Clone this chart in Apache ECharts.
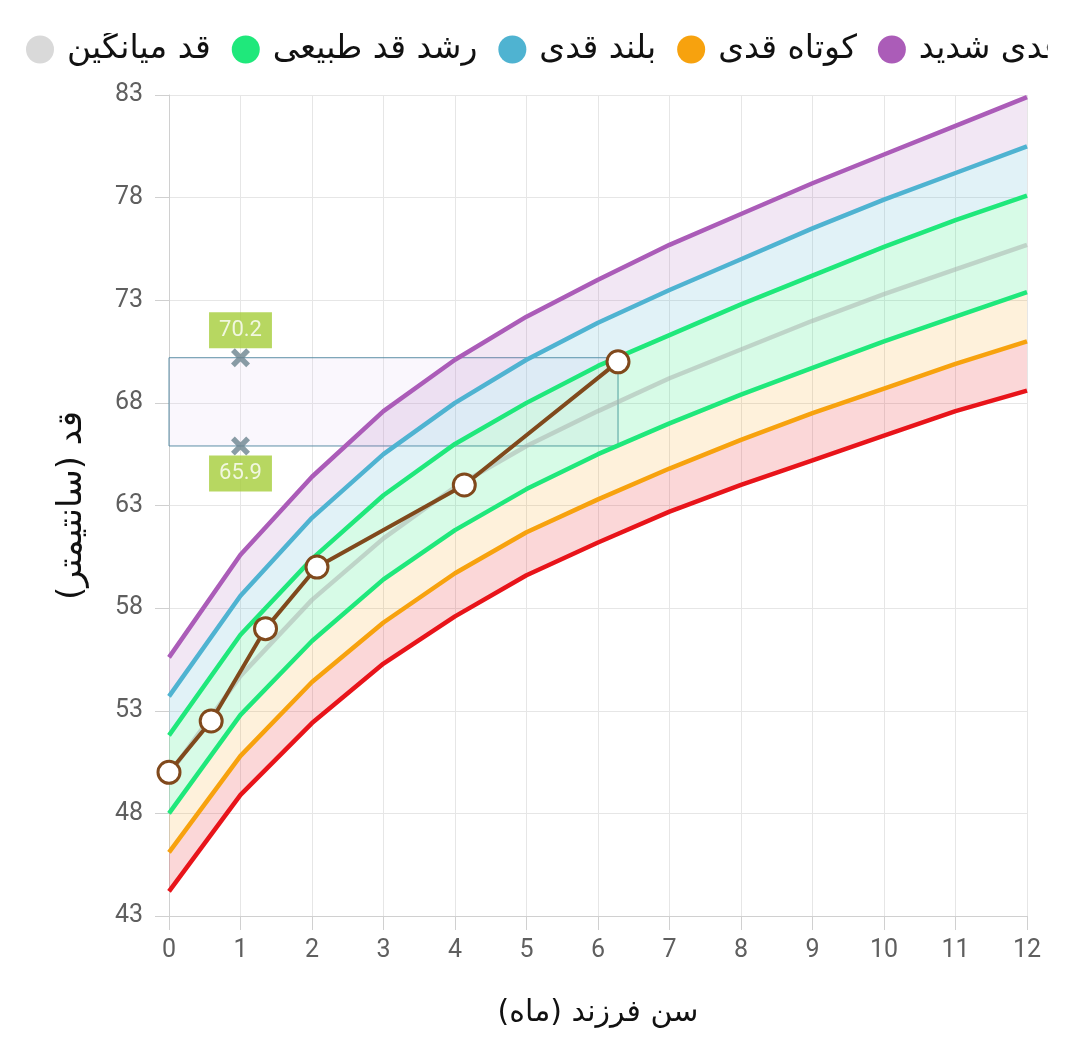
<!DOCTYPE html>
<html><head><meta charset="utf-8">
<script src="https://cdn.jsdelivr.net/npm/echarts@6/dist/echarts.min.js"></script>
<style>html,body{margin:0;padding:0;background:#fff}#c{width:1080px;height:1062px}</style>
</head><body><div id="c"></div>
<script>
// Ages in months (x axis)
const months = [0,1,2,3,4,5,6,7,8,9,10,11,12];
// Reference curves (cm)
const sdMinus3 = [44.2,48.9,52.4,55.3,57.6,59.6,61.2,62.7,64.0,65.2,66.4,67.6,68.6];
const sdMinus2 = [46.1,50.8,54.4,57.3,59.7,61.7,63.3,64.8,66.2,67.5,68.7,69.9,71.0];
const sdMinus1 = [48.0,52.8,56.4,59.4,61.8,63.8,65.5,67.0,68.4,69.7,71.0,72.2,73.4];
const median   = [49.9,54.7,58.4,61.4,63.9,65.9,67.6,69.2,70.6,72.0,73.3,74.5,75.7];
const sdPlus1  = [51.8,56.7,60.4,63.5,66.0,68.0,69.8,71.3,72.8,74.2,75.6,76.9,78.1];
const sdPlus2  = [53.7,58.6,62.4,65.5,68.0,70.1,71.9,73.5,75.0,76.5,77.9,79.2,80.5];
const sdPlus3  = [55.6,60.6,64.4,67.6,70.1,72.2,74.0,75.7,77.2,78.7,80.1,81.5,82.9];
// Child measurements
const childAge    = [0, 0.59, 1.35, 2.07, 4.13, 6.28];
const childHeight = [50.0, 52.5, 57.0, 60.0, 64.0, 70.0];
// Predicted range markers
const rangeAge = 1;
const rangeHigh = 70.2;
const rangeLow = 65.9;
// Legend names
const nameMean = 'قد میانگین';
const nameNormal = 'رشد قد طبیعی';
const nameTall = 'بلند قدی';
const nameShort = 'کوتاه قدی';
const nameVeryTall = 'بلند قدی شدید';
const nameVeryShort = 'کوتاه قدی شدید';

const C = {
  red:'#e8141a', orange:'#f7a20e', green:'#1fe87b', blue:'#4fb3d1', purple:'#ab5cb8', gray:'#d9d9d9', brown:'#80491c'
};
function diff(a,b){ return a.map((v,i)=>+(v-b[i]).toFixed(2)); }

function bandSeries(name, data, fill){
  return {name:name, type:'line', xAxisIndex:0, stack:'band', data:data, symbol:'none', silent:true,
    lineStyle:{opacity:0, width:0}, areaStyle:{color:fill, opacity:1}, z:1};
}
function curve(name, data, color, opts){
  return Object.assign({name:name, type:'line', xAxisIndex:0, data:data, symbol:'none', silent:true,
    itemStyle:{color:color}, lineStyle:{color:color, width:4.5}, z:3}, opts||{});
}

const chart = echarts.init(document.getElementById('c'), null, {renderer:'canvas'});
chart.setOption({
  animation:false,
  backgroundColor:'#fff',
  legend:{
    type:'scroll', left:21, right:2, top:28, itemGap:21, itemWidth:44, itemHeight:28, icon:'circle',
    pageIconSize:0, pageFormatter:'', pageButtonGap:0, pageButtonItemGap:0,
    pageIconColor:'rgba(0,0,0,0)', pageIconInactiveColor:'rgba(0,0,0,0)', pageTextStyle:{color:'rgba(0,0,0,0)'},
    data:[nameMean, nameNormal, nameTall, nameShort, nameVeryTall, nameVeryShort],
    textStyle:{fontSize:33, color:'#111', fontFamily:'DejaVu Sans'}
  },
  grid:{left:169, right:53, top:95, bottom:146},
  xAxis:[
    {type:'category', data:months.map(String), boundaryGap:false, show:false, position:'bottom'},
    {type:'value', min:0, max:12, interval:1, position:'bottom',
     name:'سن فرزند (ماه)', nameLocation:'middle', nameGap:82,
     nameTextStyle:{fontSize:30, color:'#111', fontFamily:'DejaVu Sans'},
     axisLine:{lineStyle:{color:'#d0d0d0'}},
     axisTick:{length:14, lineStyle:{color:'#d0d0d0'}},
     axisLabel:{fontSize:25, color:'#5f5f5f', margin:22, fontFamily:'Roboto'},
     splitLine:{lineStyle:{color:'#e6e6e6'}}}
  ],
  yAxis:{type:'value', min:43, max:83, interval:5,
    name:'قد (سانتیمتر)', nameLocation:'middle', nameGap:80, nameRotate:90,
    nameTextStyle:{fontSize:34, color:'#111', fontFamily:'DejaVu Sans'},
    axisLine:{show:true, lineStyle:{color:'#d0d0d0'}},
    axisTick:{show:true, length:14, lineStyle:{color:'#d0d0d0'}},
    axisLabel:{fontSize:25, color:'#5f5f5f', margin:26, fontFamily:'Roboto'},
    splitLine:{lineStyle:{color:'#e6e6e6'}}},
  series:[
    bandSeries('b0', sdMinus3, 'rgba(0,0,0,0)'),
    bandSeries('b1', diff(sdMinus2, sdMinus3), 'rgba(232,20,26,0.17)'),
    bandSeries('b2', diff(sdMinus1, sdMinus2), 'rgba(247,162,14,0.15)'),
    bandSeries('b3', diff(sdPlus1, sdMinus1), 'rgba(31,232,123,0.18)'),
    bandSeries('b4', diff(sdPlus2, sdPlus1), 'rgba(79,179,209,0.17)'),
    bandSeries('b5', diff(sdPlus3, sdPlus2), 'rgba(171,92,184,0.15)'),
    curve(nameMean, median, C.gray, {lineStyle:{color:'rgba(170,180,175,0.55)', width:4.5}}),
    curve(nameVeryShort, sdMinus3, C.red),
    curve(nameShort, sdMinus2, C.orange),
    curve(nameNormal, sdMinus1, C.green),
    curve(nameNormal, sdPlus1, C.green),
    curve(nameTall, sdPlus2, C.blue),
    curve(nameVeryTall, sdPlus3, C.purple),
    {name:'child', type:'line', xAxisIndex:1, z:5,
     data: childAge.map((a,i)=>[a, childHeight[i]]),
     symbol:'circle', symbolSize:22, showAllSymbol:true,
     lineStyle:{color:C.brown, width:4},
     itemStyle:{color:'#fff', borderColor:C.brown, borderWidth:3},
     markArea:{silent:true,
       itemStyle:{color:'rgba(220,190,240,0.13)', borderColor:'#5c8fa6', borderWidth:1},
       data:[[{xAxis:0, yAxis:rangeLow},{xAxis:childAge[childAge.length-1], yAxis:rangeHigh}]]}
    },
    {name:'range', type:'scatter', xAxisIndex:1, z:6,
     symbol:'path://M0,4 L4,0 L10,6 L16,0 L20,4 L14,10 L20,16 L16,20 L10,14 L4,20 L0,16 L6,10 Z',
     symbolSize:19, itemStyle:{color:'#6b838f'},
     data:[
       {value:[rangeAge, rangeHigh], label:{position:'top'}},
       {value:[rangeAge, rangeLow], label:{position:'bottom'}}
     ],
     label:{show:true, formatter:p=>p.value[1].toFixed(1), color:'#fff', fontSize:22, lineHeight:22, fontFamily:'Roboto',
       backgroundColor:'#a5cd39', padding:[7,10,7,10], distance:0}
    }
  ]
});
</script></body></html>
